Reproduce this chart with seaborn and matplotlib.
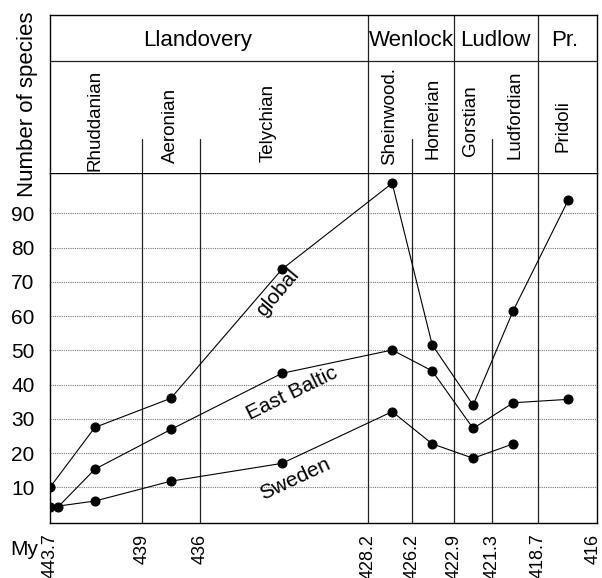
import numpy as np
import pandas as pd
import matplotlib
matplotlib.use("Agg")
import matplotlib.pyplot as plt
import matplotlib.transforms as mtransforms
import seaborn as sns

# Silurian time scale (My) and the stage / series names
tick_my = [443.7, 439, 436, 428.2, 426.2, 422.9, 421.3, 418.7, 416]
tick_labels = ["443.7", "439", "436", "428.2", "426.2", "422.9", "421.3", "418.7", "416"]
series_names = ["Llandovery", "Wenlock", "Ludlow", "Pr."]
series_bounds = [443.7, 428.2, 422.9, 418.7, 416]
stage_names = ["Rhuddanian", "Aeronian", "Telychian", "Sheinwood.", "Homerian",
               "Gorstian", "Ludfordian", "Pridoli"]
stage_inner_bounds = [439, 436, 426.2, 421.3]

# species counts (age in My)
global_my = [443.7, 441.4, 437.5, 432.2, 427.1, 424.6, 422.1, 420.1, 417.3]
global_n = [10, 27.5, 36, 73.7, 98.8, 51.6, 34, 61.6, 93.9]
baltic_my = [443.3, 441.4, 437.5, 432.2, 427.1, 424.6, 422.1, 420.1, 417.3]
baltic_n = [4.2, 15.3, 26.9, 43.3, 50.1, 44.0, 27.2, 34.7, 35.7]
sweden_my = [443.7, 441.4, 437.5, 432.2, 427.1, 424.6, 422.1, 420.1]
sweden_n = [4.2, 6.0, 11.8, 17.0, 32.1, 22.7, 18.5, 22.7]

# the original time axis is not to scale: where each boundary sits on the drawing
tick_pos = [0, 91.7, 150, 318.3, 361.7, 404, 442.3, 487.7, 546.7]


def to_pos(my):
    # np.interp needs increasing x, ages decrease to the right
    return np.interp(-np.asarray(my, dtype=float), -np.asarray(tick_my), tick_pos)


df = pd.concat([
    pd.DataFrame({"series": "global", "my": global_my, "n": global_n}),
    pd.DataFrame({"series": "East Baltic", "my": baltic_my, "n": baltic_n}),
    pd.DataFrame({"series": "Sweden", "my": sweden_my, "n": sweden_n}),
])
df["pos"] = to_pos(df["my"])

sns.set_theme(style="white")
plt.rcParams["font.family"] = ["Liberation Sans", "DejaVu Sans"]
plt.rcParams["text.color"] = "black"
plt.rcParams["xtick.color"] = "black"
plt.rcParams["ytick.color"] = "black"

fig = plt.figure(figsize=(6.02, 5.78), dpi=100)
ax = fig.add_axes([50 / 602, 54.7 / 578, 546.7 / 602, 350 / 578])
hax = fig.add_axes([50 / 602, 404.7 / 578, 546.7 / 602, 158.3 / 578])

# dotted horizontal grid
for yv in range(10, 100, 10):
    ax.axhline(yv, color="#777777", lw=0.8, ls=(0, (1, 1)), zorder=1)

# stage / series boundaries through the plot
for b in tick_my[1:-1]:
    ax.axvline(to_pos([b])[0], color="#222222", lw=0.9, zorder=1)

sns.lineplot(data=df, x="pos", y="n", units="series", estimator=None, sort=False,
             color="black", lw=0.8, marker="o", markersize=6.5,
             markeredgecolor="black", ax=ax, zorder=3, legend=False)

ax.text(228, 67, "global", rotation=50, rotation_mode="anchor",
        ha="center", va="center", fontsize=15)
ax.text(241.5, 37.5, "East Baltic", rotation=26, rotation_mode="anchor",
        ha="center", va="center", fontsize=15)
ax.text(245, 12.5, "Sweden", rotation=25, rotation_mode="anchor",
        ha="center", va="center", fontsize=15)

ax.set_xlim(0, 546.7)
ax.set_ylim(-0.5, 101.7)
ax.set_xticks(tick_pos)
ax.set_xticklabels(tick_labels, rotation=90, fontsize=13)
ax.set_yticks(range(10, 100, 10))
ax.tick_params(axis="x", length=3.5, width=0.8, direction="out", pad=4)
ax.tick_params(axis="y", length=0, pad=11, labelsize=15)
ax.set_xlabel("")
ax.set_ylabel("")
# keep the last age label inside the picture
last = ax.get_xticklabels()[-1]
last.set_transform(last.get_transform() +
                   mtransforms.ScaledTranslation(-4 / 100, 0, fig.dpi_scale_trans))
for s in ax.spines.values():
    s.set_color("black")
    s.set_linewidth(1.0)

# header table with series and stages
hax.set_xlim(0, 546.7)
hax.set_ylim(0, 1)
hax.set_xticks([])
hax.set_yticks([])
hax.spines["bottom"].set_visible(False)
for s in ["top", "left", "right"]:
    hax.spines[s].set_color("black")
    hax.spines[s].set_linewidth(1.0)
hax.axhline(0.709, color="#222222", lw=0.9)
for b in series_bounds[1:-1]:
    hax.axvline(to_pos([b])[0], color="#222222", lw=0.9)
for b in stage_inner_bounds:
    hax.axvline(to_pos([b])[0], ymin=0, ymax=0.217, color="#222222", lw=0.9)

series_x = [147.8, 361.7, 445, 515]
for name, xp in zip(series_names, series_x):
    hax.text(xp, 0.842, name, ha="center", va="center", fontsize=16)

stage_x = [45, 120, 218, 340, 383.3, 420, 465, 513]
stage_y = [0.335, 0.30, 0.32, 0.36, 0.345, 0.33, 0.37, 0.30]
for name, xp, yp in zip(stage_names, stage_x, stage_y):
    hax.text(xp, yp, name, rotation=90, ha="center", va="center", fontsize=13.5)

fig.text(28 / 602, 1 - 104.5 / 578, "Number of species", rotation=90,
         ha="center", va="center", fontsize=16)
fig.text(10 / 602, 23 / 578, "My", ha="left", va="baseline", fontsize=15)

fig.savefig("out.png", dpi=100)
